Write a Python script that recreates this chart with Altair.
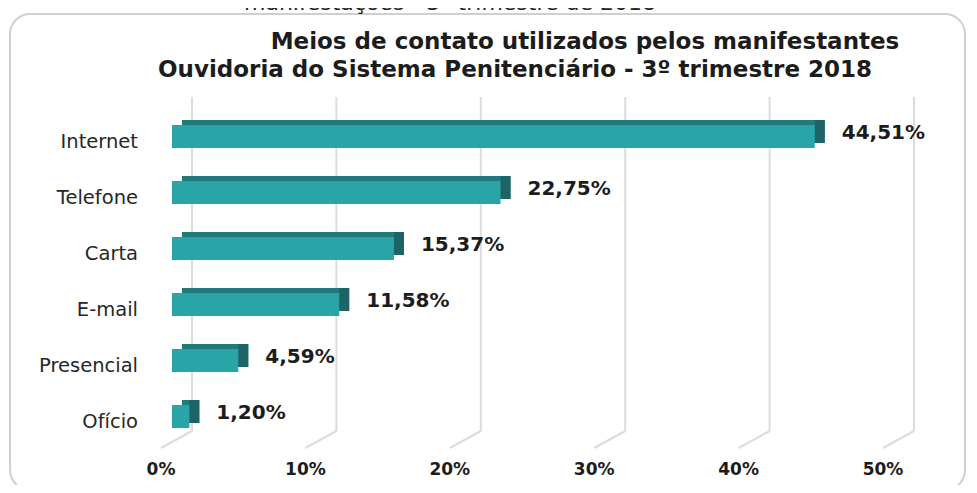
import altair as alt
import pandas as pd

# ---- data ----
categories = ["Internet", "Telefone", "Carta", "E-mail", "Presencial", "Ofício"]
values = [44.51, 22.75, 15.37, 11.58, 4.59, 1.20]
tick_values = [0, 10, 20, 30, 40, 50]
tick_labels = ["0%", "10%", "20%", "30%", "40%", "50%"]
title_line1 = "Meios de contato utilizados pelos manifestantes"
title_line2 = "Ouvidoria do Sistema Penitenciário - 3º trimestre 2018"
clipped_header = "manifestações - 3º trimestre de 2018"

bars = pd.DataFrame({
    "cat": categories,
    "value": values,
    "label": [f"{v:.2f}".replace(".", ",") + "%" for v in values],
})
ticks = pd.DataFrame({"tick": tick_values, "label": tick_labels})
one = pd.DataFrame({"a": [0]})

FRONT = "#29a4a7"
TOP = "#22797c"
SIDE = "#1c6467"
TXT = "#1c1c1c"
FONT = "DejaVu Sans"

xs = alt.Scale(domain=[0, 50], range=[164, 886], nice=False, zero=True)
ys = alt.Scale(domain=categories, range=[100.5, 436.5], paddingInner=0.59, paddingOuter=0.295)

X = lambda f: alt.X(f, type="quantitative", scale=xs, axis=None)
Y = alt.Y("cat:N", scale=ys, axis=None, sort=categories)

frame = alt.Chart(one).mark_rect(
    fill="white", stroke="#cfcfcf", strokeWidth=2, cornerRadius=20
).encode(x=alt.value(2), x2=alt.value(957), y=alt.value(6), y2=alt.value(482))

header = alt.Chart(one).mark_text(
    text=clipped_header, font=FONT, fontSize=22, color="#222", baseline="alphabetic"
).encode(x=alt.value(442), y=alt.value(2))

grid = alt.Chart(ticks).mark_rule(color="#dcdcdc", strokeWidth=2, xOffset=20).encode(
    x=X("tick"), y=alt.value(89), y2=alt.value(423)
)
floor = alt.Chart(ticks).mark_rule(
    color="#dcdcdc", strokeWidth=2, xOffset=20, x2Offset=-11
).encode(x=X("tick"), x2=alt.X2("tick"), y=alt.value(423), y2=alt.value(440))

tick_text = alt.Chart(ticks).mark_text(
    font=FONT, fontSize=17, fontWeight="bold", color=TXT, xOffset=-11
).encode(x=X("tick"), y=alt.value(462), text="label:N")

top_face = alt.Chart(bars).mark_bar(
    color=TOP, xOffset=10, x2Offset=10, yOffset=-5, y2Offset=-5
).encode(x=X("value"), y=Y)

side_face = alt.Chart(bars).mark_bar(
    color=SIDE, x2Offset=10, yOffset=-5, y2Offset=-5
).encode(x=X("value"), x2=alt.X2("value"), y=Y)

front = alt.Chart(bars).mark_bar(color=FRONT).encode(x=X("value"), y=Y)

value_text = alt.Chart(bars).mark_text(
    font=FONT, fontSize=20, fontWeight="bold", color=TXT, align="left", dx=27, dy=-4
).encode(x=X("value"), y=Y, text="label:N")

cat_text = alt.Chart(bars).mark_text(
    font=FONT, fontSize=19.5, color="#262626", align="right", dy=5
).encode(x=alt.value(130), y=Y, text="cat:N")

t1 = alt.Chart(one).mark_text(
    text=title_line1, font=FONT, fontSize=23, fontWeight="bold", color=TXT
).encode(x=alt.value(577), y=alt.value(34))
t2 = alt.Chart(one).mark_text(
    text=title_line2, font=FONT, fontSize=23, fontWeight="bold", color=TXT
).encode(x=alt.value(507), y=alt.value(62))

chart = alt.layer(
    frame, header, grid, floor, tick_text, top_face, side_face, front,
    value_text, cat_text, t1, t2
).properties(
    width=961, height=477, autosize=alt.AutoSizeParams(type="none"), padding=0
).configure_view(stroke=None)

chart.save("out.html", embed_options={"renderer": "svg", "actions": False})
